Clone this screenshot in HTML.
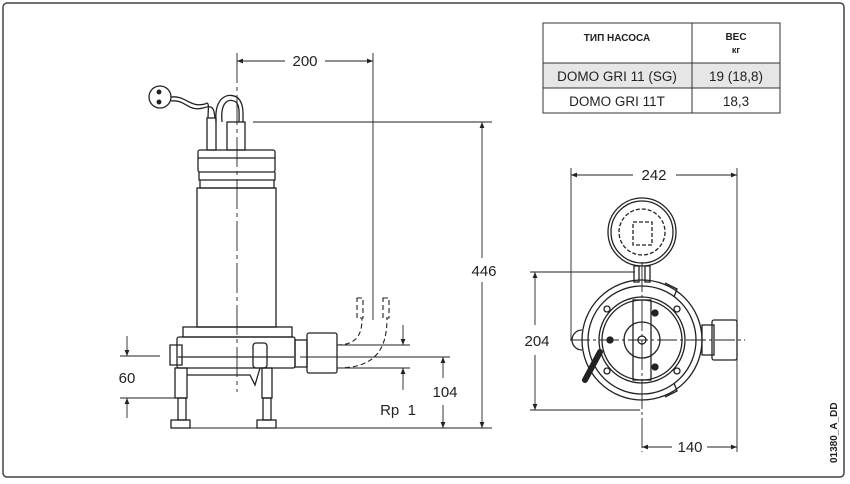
<!DOCTYPE html>
<html><head><meta charset="utf-8"><style>
html,body{margin:0;padding:0;background:#fff;}
svg{display:block;}
text{font-family:"Liberation Sans","DejaVu Sans",sans-serif;fill:#222;}
</style></head><body>
<svg width="850" height="484" viewBox="0 0 850 484" xmlns="http://www.w3.org/2000/svg">
<defs>
<marker id="a" viewBox="0 0 10 10" refX="10" refY="5" markerWidth="9" markerHeight="6" orient="auto-start-reverse" markerUnits="userSpaceOnUse"><path d="M0,1 L10,5 L0,9 z" fill="#222"/></marker>
</defs>
<rect x="3" y="3" width="841" height="474" rx="4" fill="none" stroke="#444" stroke-width="1.5"/>

<!-- table -->
<g stroke="#333" stroke-width="1" fill="none">
<rect x="543" y="63" width="237" height="25" fill="#e6e6e6" stroke="none"/>
<rect x="543" y="23" width="237" height="90"/>
<line x1="543" y1="63" x2="780" y2="63"/>
<line x1="543" y1="88" x2="780" y2="88"/>
<line x1="692" y1="23" x2="692" y2="113"/>
</g>
<text x="617" y="41" font-size="10" font-weight="bold" text-anchor="middle">ТИП НАСОСА</text>
<text x="736" y="40" font-size="10" font-weight="bold" text-anchor="middle">ВЕС</text>
<text x="736" y="53" font-size="9" font-weight="bold" text-anchor="middle">кг</text>
<text x="617" y="81" font-size="13.5" text-anchor="middle" fill="#444">DOMO GRI 11 (SG)</text>
<text x="736" y="81" font-size="13.5" text-anchor="middle" fill="#444">19 (18,8)</text>
<text x="617" y="106" font-size="13.5" text-anchor="middle" fill="#444">DOMO GRI 11T</text>
<text x="736" y="106" font-size="13.5" text-anchor="middle" fill="#444">18,3</text>

<!-- main pump -->
<g stroke="#222" stroke-width="1.3" fill="none">
<circle cx="160" cy="97" r="11"/>
<circle cx="159" cy="92" r="1.8" fill="#222"/>
<circle cx="159" cy="102" r="1.8" fill="#222"/>
<path d="M171,97 C185,95 190,108 205,104 C210,100 208,110 208,118"/>
<path d="M171,101 C185,99 188,112 203,108 C214,104 214,110 215,118"/>
<path d="M216,122 C214,95 230,92 238,98 C244,104 243,114 243,122"/>
<path d="M222,122 C220,100 230,98 236,102 C240,106 239,114 239,122"/>
<rect x="207" y="118" width="9" height="32"/>
<rect x="227" y="122" width="18" height="28"/>
<rect x="198" y="150" width="77" height="22" rx="2"/>
<line x1="198" y1="158" x2="275" y2="158"/>
<path d="M199,172 L199,180 L275,180 L275,172"/>
<path d="M200,180 L200,188 L274,188 L274,180"/>
<rect x="197" y="188" width="79" height="139"/>
<rect x="183" y="327" width="109" height="10"/>
<rect x="177" y="337" width="118" height="31" rx="2"/>
<line x1="178" y1="357" x2="294" y2="357"/>
<rect x="295" y="340" width="12" height="27"/>
<rect x="307" y="333" width="30" height="40" rx="2"/>
<rect x="175" y="368" width="12" height="30"/>
<path d="M187,375 L250,375 L255,385 L260,368"/>
<rect x="253" y="343" width="14" height="25" rx="3"/>
<rect x="262" y="368" width="10" height="30"/>
<rect x="178" y="398" width="8" height="22"/>
<rect x="171" y="420" width="19" height="8"/>
<rect x="263" y="398" width="8" height="22"/>
<rect x="257" y="420" width="19" height="8"/>
<path d="M170,345 h12 v20 h-12 z"/>
</g>
<g stroke="#222" stroke-width="1.1" fill="none" stroke-dasharray="5,3">
<path d="M337,345 C360,345 362,330 362,318"/>
<path d="M337,368 C375,368 387,350 387,318"/>
<path d="M357,298 h6 v20 h-6 z"/>
<path d="M383,298 h6 v20 h-6 z"/>
</g>
<!-- dims main -->
<g stroke="#222" stroke-width="0.9" fill="none">
<line x1="237" y1="53" x2="237" y2="392" stroke-dasharray="30,4,4,4"/>
<line x1="373" y1="53" x2="373" y2="320"/>
<line x1="237" y1="61" x2="285" y2="61" marker-start="url(#a)"/>
<line x1="325" y1="61" x2="373" y2="61" marker-end="url(#a)"/>
<line x1="253" y1="122" x2="492" y2="122"/>
<line x1="190" y1="428" x2="492" y2="428"/>
<line x1="482" y1="122" x2="482" y2="258" marker-start="url(#a)"/>
<line x1="482" y1="282" x2="482" y2="428" marker-end="url(#a)"/>
<line x1="300" y1="357" x2="450" y2="357"/>
<line x1="443" y1="357" x2="443" y2="378" marker-start="url(#a)"/>
<line x1="443" y1="405" x2="443" y2="428" marker-end="url(#a)"/>
<line x1="337" y1="345" x2="410" y2="345"/>
<line x1="337" y1="368" x2="410" y2="368"/>
<line x1="403" y1="325" x2="403" y2="345" marker-end="url(#a)"/>
<line x1="403" y1="390" x2="403" y2="368" marker-end="url(#a)"/>
<line x1="120" y1="356" x2="160" y2="356"/>
<line x1="120" y1="398" x2="176" y2="398"/>
<line x1="127" y1="336" x2="127" y2="356" marker-end="url(#a)"/>
<line x1="127" y1="418" x2="127" y2="398" marker-end="url(#a)"/>
</g>
<text x="305" y="66" font-size="15" text-anchor="middle">200</text>
<text x="484" y="276" font-size="15" text-anchor="middle">446</text>
<text x="445" y="397" font-size="15" text-anchor="middle">104</text>
<text x="398" y="415" font-size="15" text-anchor="middle">Rp&#160;&#160;1</text>
<text x="127" y="383" font-size="15" text-anchor="middle">60</text>

<!-- right view -->
<g stroke="#222" stroke-width="1.3" fill="none">
<circle cx="642" cy="232" r="34"/>
<circle cx="642" cy="232" r="31"/>
<circle cx="642" cy="232" r="23" stroke-dasharray="4,2"/>
<rect x="633" y="222" width="19" height="23" stroke-dasharray="4,2"/>
<rect x="634" y="266" width="5" height="16"/>
<rect x="645" y="266" width="5" height="16"/>
<circle cx="642" cy="340" r="60"/>
<circle cx="642" cy="340" r="54"/>
<circle cx="642" cy="340" r="43"/>
<circle cx="642" cy="340" r="40"/>
<circle cx="642" cy="340" r="18"/>
<circle cx="642" cy="340" r="4"/>
<rect x="633" y="300" width="18" height="80"/>
<line x1="600" y1="352" x2="585" y2="380" stroke-width="6" stroke-linecap="round"/>
<rect x="702" y="325" width="12" height="30"/>
<rect x="712" y="320" width="25" height="40" rx="2"/>
<path d="M582,330 a8,8 0 0 0 0,20"/>
<path d="M665,283 l12,6 l-3,8"/>
<path d="M665,397 l12,-6 l-3,-8"/>
<circle cx="607" cy="309" r="3"/><circle cx="677" cy="309" r="3"/>
<circle cx="607" cy="371" r="3"/><circle cx="677" cy="371" r="3"/>
<circle cx="655" cy="313" r="3" fill="#222"/><circle cx="655" cy="367" r="3" fill="#222"/>
<circle cx="610" cy="340" r="3" fill="#222"/>
</g>
<g stroke="#222" stroke-width="0.9" fill="none">
<line x1="571" y1="168" x2="571" y2="340"/>
<line x1="737" y1="168" x2="737" y2="452"/>
<line x1="571" y1="175" x2="633" y2="175" marker-start="url(#a)"/>
<line x1="676" y1="175" x2="737" y2="175" marker-end="url(#a)"/>
<line x1="570" y1="340" x2="745" y2="340" stroke-dasharray="20,3,3,3"/>
<line x1="642" y1="262" x2="642" y2="452" stroke-dasharray="30,3,3,3"/>
<line x1="530" y1="272" x2="635" y2="272"/>
<line x1="530" y1="410" x2="640" y2="410"/>
<line x1="535" y1="272" x2="535" y2="325" marker-start="url(#a)"/>
<line x1="535" y1="355" x2="535" y2="410" marker-end="url(#a)"/>
<line x1="642" y1="447" x2="672" y2="447" marker-start="url(#a)"/>
<line x1="707" y1="447" x2="737" y2="447" marker-end="url(#a)"/>
</g>
<text x="654" y="180" font-size="15" text-anchor="middle">242</text>
<text x="537" y="346" font-size="15" text-anchor="middle">204</text>
<text x="690" y="452" font-size="15" text-anchor="middle">140</text>
<text transform="translate(837,463) rotate(-90)" font-size="10" font-weight="bold">01380_A_DD</text>
</svg>
</body></html>
